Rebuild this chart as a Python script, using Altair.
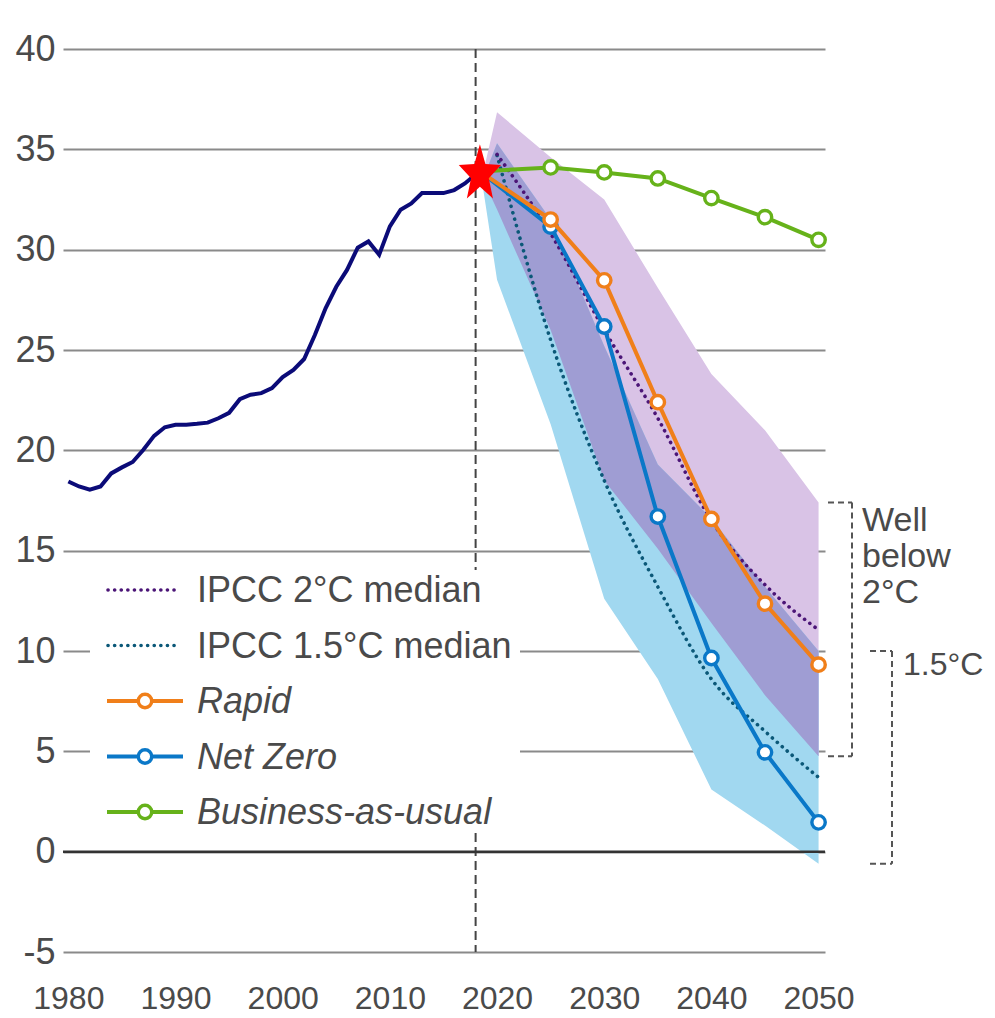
import math
import altair as alt
import pandas as pd

# ---------------- data ----------------
hist_years = list(range(1980, 2019))
hist_values = [18.45, 18.2, 18.04, 18.2, 18.85, 19.15, 19.42, 20.03, 20.72, 21.15,
               21.27, 21.28, 21.32, 21.38, 21.6, 21.87, 22.55, 22.77, 22.85, 23.1,
               23.65, 24.01, 24.55, 25.75, 27.08, 28.15, 28.99, 30.1, 30.41, 29.75,
               31.16, 31.99, 32.3, 32.82, 32.82, 32.82, 32.97, 33.3, 33.75]

proj_years = [2018.4, 2025, 2030, 2035, 2040, 2045, 2050]
rapid = [33.9, 31.5, 28.47, 22.4, 16.58, 12.36, 9.32]
net_zero = [33.9, 31.15, 26.17, 16.7, 9.65, 4.95, 1.46]
bau = [33.9, 34.1, 33.85, 33.55, 32.57, 31.62, 30.49]

median_years = [2020, 2025, 2030, 2035, 2040, 2045, 2050]
ipcc_2c_median = [34.75, 30.8, 26.0, 21.6, 16.5, 13.3, 11.05]
ipcc_15c_median = [34.7, 25.5, 18.5, 13.2, 8.6, 6.0, 3.7]

band_years = [2018.6, 2020, 2025, 2030, 2035, 2040, 2045, 2050]
band_2c_high = [33.6, 36.85, 34.6, 32.5, 28.1, 23.8, 21.0, 17.4]
band_2c_low = [33.6, 32.0, 26.0, 18.5, 15.1, 11.4, 7.8, 4.75]
band_15c_high = [33.4, 35.3, 31.5, 25.2, 19.3, 16.6, 13.2, 10.0]
band_15c_low = [33.4, 28.5, 21.3, 12.6, 8.6, 3.1, 1.3, -0.6]

star_year = 2018.4
star_value = 33.9
divider_year = 2018

x_ticks = [1980, 1990, 2000, 2010, 2020, 2030, 2040, 2050]
y_ticks = [-5, 0, 5, 10, 15, 20, 25, 30, 35, 40]

legend_labels = ["IPCC 2°C median", "IPCC 1.5°C median", "Rapid", "Net Zero", "Business-as-usual"]
bracket_labels = ["Well\nbelow\n2°C", "1.5°C"]

# ---------------- styling ----------------
W, H = 762, 903
FONT = "Liberation Sans"
TXT = "#4a4a4a"
C_HIST = "#0b0b78"
C_RAPID = "#f07f1a"
C_NZ = "#0a78c8"
C_BAU = "#66b21a"
C_2C = "#4b1577"
C_15C = "#0b5878"
C_BAND_2C = "#d9c3e6"
C_BAND_15C = "#a1d8f0"
C_OVERLAP = "#9f9dd3"
LW = 4
PT_SIZE = 180
PT_SW = 3.4


def star_path(inner=0.42, xs=0.74):
    pts = []
    for k in range(10):
        r = 1.0 if k % 2 == 0 else inner
        a = math.radians(-90 + 36 * k)
        pts.append((xs * r * math.cos(a), r * math.sin(a) + 0.095))
    return "M" + " L".join(f"{x:.3f},{y:.3f}" for x, y in pts) + " Z"


xscale = alt.Scale(domain=[1979.5, 2050.6], nice=False, zero=False)
yscale = alt.Scale(domain=[-5, 40], nice=False, zero=False)
xaxis = alt.Axis(values=x_ticks, format="d", title=None, grid=False, ticks=False, domain=False,
                 orient="bottom",
                 labelFont="Liberation Sans Narrow, Liberation Sans, sans-serif", labelFontSize=32,
                 labelColor=TXT, labelPadding=31, labelFlush=False)
yaxis = alt.Axis(values=y_ticks, title=None, grid=True, ticks=False, domain=False,
                 orient="left", labelExpr="datum.value",
                 gridColor="#8a8a8a", gridWidth=2, labelFont=FONT, labelFontSize=36,
                 labelColor=TXT, labelPadding=8)


def X(field):
    return alt.X(field, type="quantitative", scale=xscale, axis=xaxis)


def Y(field):
    return alt.Y(field, type="quantitative", scale=yscale, axis=yaxis)


one = pd.DataFrame({"k": [0]})

hist_df = pd.DataFrame({"year": hist_years, "value": hist_values})
band_df = pd.DataFrame({"year": band_years, "lo2": band_2c_low, "hi2": band_2c_high,
                        "lo15": band_15c_low, "hi15": band_15c_high})
med_df = pd.DataFrame({"year": median_years, "m2": ipcc_2c_median, "m15": ipcc_15c_median})

layers = []

# divider line
layers.append(alt.Chart(pd.DataFrame({"year": [divider_year]})).mark_rule(
    color="#444444", strokeWidth=2, strokeDash=[9, 5]).encode(
    x=X("year"), y=alt.value(0), y2=alt.value(H)))

# history
layers.append(alt.Chart(hist_df).mark_line(color=C_HIST, strokeWidth=LW).encode(
    x=X("year"), y=Y("value")))

# bands
layers.append(alt.Chart(band_df).mark_area(color=C_BAND_2C, opacity=1).encode(
    x=X("year"), y=Y("lo2"), y2="hi2"))
layers.append(alt.Chart(band_df).mark_area(color=C_BAND_15C, opacity=1).encode(
    x=X("year"), y=Y("lo15"), y2="hi15"))
layers.append(alt.Chart(band_df).mark_area(color=C_OVERLAP, opacity=1).encode(
    x=X("year"), y=Y("lo2"), y2="hi15"))

# zero line
layers.append(alt.Chart(pd.DataFrame({"v": [0]})).mark_rule(color="#333333", strokeWidth=2.5).encode(
    y=Y("v"), x=alt.value(0), x2=alt.value(W)))

# medians
DOT = [0.1, 6.5]
layers.append(alt.Chart(med_df).mark_line(color=C_15C, strokeWidth=3.6, strokeDash=DOT,
                                          strokeCap="round", interpolate="monotone").encode(
    x=X("year"), y=Y("m15")))
layers.append(alt.Chart(med_df).mark_line(color=C_2C, strokeWidth=3.6, strokeDash=DOT,
                                          strokeCap="round", interpolate="monotone").encode(
    x=X("year"), y=Y("m2")))

# scenarios
for vals, col in [(bau, C_BAU), (net_zero, C_NZ), (rapid, C_RAPID)]:
    df = pd.DataFrame({"year": proj_years, "value": vals})
    layers.append(alt.Chart(df).mark_line(color=col, strokeWidth=LW).encode(
        x=X("year"), y=Y("value")))
    layers.append(alt.Chart(df.iloc[1:]).mark_point(
        shape="circle", filled=True, fill="white", stroke=col, strokeWidth=PT_SW,
        size=PT_SIZE, opacity=1).encode(x=X("year"), y=Y("value")))

# star
layers.append(alt.Chart(pd.DataFrame({"year": [star_year], "value": [star_value]})).mark_point(
    shape=star_path(), filled=True, color="#ff0000", size=3600, opacity=1).encode(
    x=X("year"), y=Y("value")))

# legend (manual)
layers.append(alt.Chart(one).mark_rect(color="white").encode(
    x=alt.value(27), x2=alt.value(457), y=alt.value(521), y2=alt.value(784)))
leg_colors = [C_2C, C_15C, C_RAPID, C_NZ, C_BAU]
for i, (lab, col) in enumerate(zip(legend_labels, leg_colors)):
    yy = 541 + i * 55.5
    if i < 2:
        layers.append(alt.Chart(one).mark_rule(color=col, strokeWidth=3.6, strokeDash=[0.1, 6.5],
                                               strokeCap="round").encode(
            x=alt.value(45), x2=alt.value(114), y=alt.value(yy)))
    else:
        layers.append(alt.Chart(one).mark_rule(color=col, strokeWidth=LW).encode(
            x=alt.value(44), x2=alt.value(120), y=alt.value(yy)))
        layers.append(alt.Chart(one).mark_point(shape="circle", filled=True, fill="white", stroke=col,
                                                strokeWidth=PT_SW, size=PT_SIZE, opacity=1).encode(
            x=alt.value(82), y=alt.value(yy)))
    layers.append(alt.Chart(one).mark_text(
        text=lab, font=FONT, fontSize=36, color=TXT, align="left", baseline="middle",
        fontStyle="italic" if i >= 2 else "normal").encode(
        x=alt.value(134), y=alt.value(yy + 1)))

# brackets (y from the band ends at 2050)
BR = dict(color="#555555", strokeWidth=2, strokeDash=[6, 4])
b2_top, b2_bot = band_2c_high[-1], band_2c_low[-1]
b15_top, b15_bot = band_15c_high[-1], band_15c_low[-1]
for top, bot, x0, x1 in [(b2_top, b2_bot, 765, 789), (b15_top, b15_bot, 807, 829)]:
    for v in (top, bot):
        layers.append(alt.Chart(pd.DataFrame({"v": [v]})).mark_rule(**BR).encode(
            y=Y("v"), x=alt.value(x0), x2=alt.value(x1)))
    layers.append(alt.Chart(pd.DataFrame({"a": [top], "b": [bot]})).mark_rule(**BR).encode(
        y=Y("a"), y2="b", x=alt.value(x1)))

layers.append(alt.Chart(one).mark_text(
    text=bracket_labels[0], font=FONT, fontSize=34, color=TXT, align="left", baseline="middle",
    lineBreak="\n", lineHeight=36).encode(x=alt.value(799), y=alt.value(472)))
layers.append(alt.Chart(one).mark_text(
    text=bracket_labels[1], font=FONT, fontSize=32, color=TXT, align="left", baseline="middle").encode(
    x=alt.value(840), y=alt.value(616)))

chart = alt.layer(*layers).properties(
    width=W, height=H, background="white",
    autosize=alt.AutoSizeParams(type="none"),
    padding={"left": 55, "top": 41, "right": 162, "bottom": 66},
).configure_view(stroke=None)

chart.save("out.html", embed_options={"renderer": "svg", "actions": False})
